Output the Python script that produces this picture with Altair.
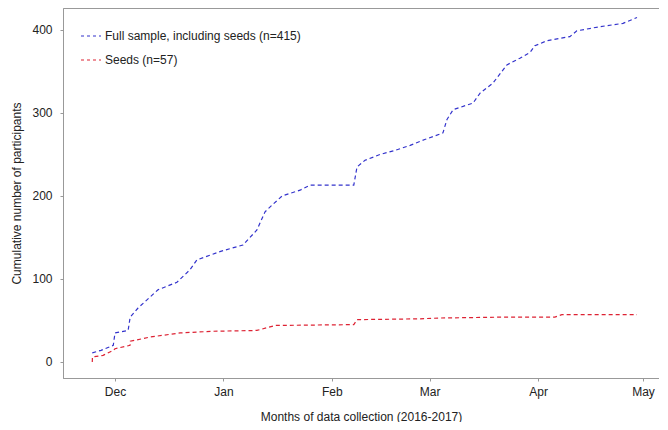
import altair as alt
import pandas as pd

FULL = "Full sample, including seeds (n=415)"
SEEDS = "Seeds (n=57)"

full_dates = [
    "2016-11-24T12:00:00Z", "2016-11-27T00:00:00Z", "2016-11-30T12:00:00Z", "2016-12-01T00:00:00Z",
    "2016-12-04T18:00:00Z", "2016-12-05T08:00:00Z", "2016-12-07T14:00:00Z", "2016-12-13T07:00:00Z",
    "2016-12-18T17:00:00Z", "2016-12-22T10:00:00Z", "2016-12-24T10:00:00Z", "2016-12-31T00:00:00Z",
    "2017-01-06T14:00:00Z", "2017-01-10T14:00:00Z", "2017-01-12T22:00:00Z", "2017-01-14T22:00:00Z",
    "2017-01-17T19:00:00Z", "2017-01-22T22:00:00Z", "2017-01-25T19:00:00Z", "2017-02-07T07:00:00Z",
    "2017-02-08T05:00:00Z", "2017-02-10T12:00:00Z", "2017-02-14T19:00:00Z", "2017-02-19T02:00:00Z",
    "2017-02-23T10:00:00Z", "2017-02-27T14:00:00Z", "2017-03-04T19:00:00Z", "2017-03-05T22:00:00Z",
    "2017-03-07T17:00:00Z", "2017-03-13T10:00:00Z", "2017-03-15T10:00:00Z", "2017-03-19T02:00:00Z",
    "2017-03-23T02:00:00Z", "2017-03-26T19:00:00Z", "2017-03-29T17:00:00Z", "2017-03-31T02:00:00Z",
    "2017-04-03T12:00:00Z", "2017-04-10T02:00:00Z", "2017-04-12T02:00:00Z", "2017-04-18T17:00:00Z",
    "2017-04-25T07:00:00Z", "2017-04-29T07:00:00Z",
]
full_values = [
    11, 14, 20, 35,
    38, 54, 65, 87,
    96, 111, 123, 133,
    141, 159, 181, 189,
    200, 207, 213, 213,
    235, 243, 250, 255,
    261, 268, 276, 292,
    304, 312, 324, 336,
    358, 366, 373, 381,
    387, 392, 399, 404,
    408, 415,
]

seed_dates = [
    "2016-11-24T12:00:00Z", "2016-11-24T13:00:00Z", "2016-11-27T14:00:00Z", "2016-11-30T12:00:00Z",
    "2016-12-01T00:00:00Z", "2016-12-05T07:00:00Z", "2016-12-05T09:00:00Z", "2016-12-11T00:00:00Z",
    "2016-12-19T14:00:00Z", "2016-12-29T00:00:00Z", "2017-01-10T14:00:00Z", "2017-01-15T19:00:00Z",
    "2017-02-07T07:00:00Z", "2017-02-08T05:00:00Z", "2017-02-26T05:00:00Z", "2017-03-03T22:00:00Z",
    "2017-03-21T02:00:00Z", "2017-04-05T19:00:00Z", "2017-04-07T19:00:00Z", "2017-04-29T07:00:00Z",
]
seed_values = [
    0, 6, 8, 14,
    16, 20, 25, 30,
    35, 37, 38, 44,
    45, 51, 52, 53,
    54, 54, 57, 57,
]

y_ticks = [0, 100, 200, 300, 400]

df = pd.concat([
    pd.DataFrame({"date": full_dates, "count": full_values, "series": FULL, "ord": range(len(full_dates))}),
    pd.DataFrame({"date": seed_dates, "count": seed_values, "series": SEEDS, "ord": range(len(seed_dates))}),
])

FONT = "Liberation Sans"

chart = alt.Chart(df).mark_line(strokeDash=[4, 3], strokeWidth=1.2).encode(
    x=alt.X(
        "date:T",
        scale=alt.Scale(
            type="utc",
            domain=[alt.DateTime(year=2016, month=11, date=16, hours=3, utc=True),
                    alt.DateTime(year=2017, month=5, date=5, hours=14, utc=True)],
            nice=False,
        ),
        axis=alt.Axis(
            title="Months of data collection (2016-2017)",
            format="%b",
            tickCount={"interval": "month", "step": 1},
            grid=False, tickSize=3, labelPadding=5, titlePadding=14,
        ),
    ),
    y=alt.Y(
        "count:Q",
        scale=alt.Scale(domain=[-19.3, 426.5], nice=False, zero=False),
        axis=alt.Axis(
            title="Cumulative number of participants",
            values=y_ticks, grid=False, tickSize=3, labelPadding=8, titlePadding=8,
        ),
    ),
    color=alt.Color(
        "series:N",
        scale=alt.Scale(domain=[FULL, SEEDS], range=["#3333cc", "#dd2233"]),
        legend=alt.Legend(
            title=None, orient="none", legendX=17, legendY=17,
            symbolType="stroke", symbolSize=400, symbolStrokeWidth=1.2,
            symbolDash=[3, 3], labelFontSize=12, labelFont=FONT, labelColor="#222",
            rowPadding=7, labelOffset=3, labelLimit=0,
        ),
    ),
    order="ord:Q",
).properties(
    width=596, height=370,
    autosize=alt.AutoSizeParams(type="none"),
    padding={"left": 55, "top": 0, "right": 0, "bottom": 44},
).configure_view(
    stroke="#999999", strokeWidth=1,
).configure_axis(
    labelFont=FONT, titleFont=FONT, labelFontSize=12, titleFontSize=12,
    titleFontWeight="normal", labelColor="#222", titleColor="#222",
    domainColor="#999999", tickColor="#999999",
)

chart.save("out.html", embed_options={"renderer": "svg", "actions": False})
